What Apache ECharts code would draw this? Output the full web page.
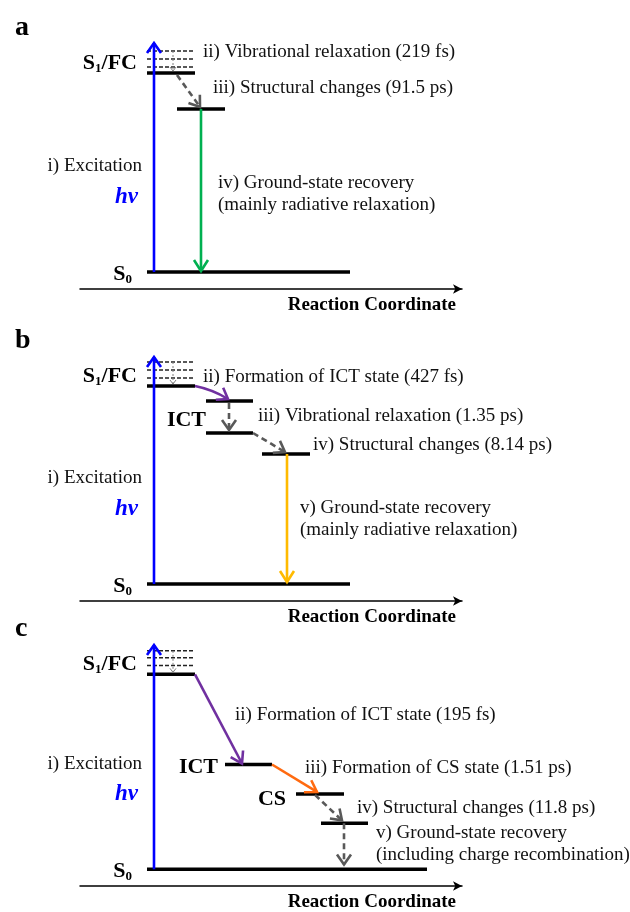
<!DOCTYPE html>
<html>
<head>
<meta charset="utf-8">
<script src="https://cdn.jsdelivr.net/npm/echarts@6/dist/echarts.min.js"></script>
<style>
  html, body { margin: 0; padding: 0; background: #fff; }
  #chart { width: 630px; height: 912px; }
</style>
</head>
<body>
<div id="chart"></div>
<script>
const FONT = "'Liberation Serif', 'Times New Roman', serif";

const panelNames = ['a', 'b', 'c'];
const axisTitle = 'Reaction Coordinate';
const excitationText = 'i) Excitation';
const photonText = 'hν';

// energy levels: [xStart, xEnd, energy]
const levelsA = [[67, 115, 216], [97, 145, 180], [67, 270, 17]];
const levelsB = [[67, 115, 215], [126, 173, 200], [126, 173, 168], [182, 230, 147], [67, 270, 17]];
const levelsC = [[67, 115, 216], [145, 192, 124], [216, 264, 94], [241, 288, 64], [67, 347, 17]];

// vibrational sub-levels above S1/FC
const vibA = [[67, 115, 238], [67, 115, 230], [67, 115, 222]];
const vibB = [[67, 115, 239], [67, 115, 231], [67, 115, 223]];
const vibC = [[67, 115, 240], [67, 115, 233], [67, 115, 225]];

// arrows: [x1, y1, x2, y2] and their kinds
const arrowsA = [[74, 17, 74, 246], [93, 238, 93, 218], [97, 214, 120, 182], [121, 180, 121, 18]];
const arrowKindsA = ['blue', 'dot', 'dash', 'green'];
const arrowsB = [[74, 17, 74, 244], [93, 239, 93, 217], [115, 215, 148, 202], [149, 198, 149, 171], [173, 168, 205, 149], [207, 147, 207, 19]];
const arrowKindsB = ['blue', 'dot', 'purpleCurve', 'dash', 'dash', 'yellow'];
const arrowsC = [[74, 17, 74, 246], [93, 240, 93, 218], [115, 216, 162, 125], [192, 124, 237, 96], [235, 93, 262, 67], [264, 64, 264, 22]];
const arrowKindsC = ['blue', 'dot', 'purple', 'orange', 'dash', 'dash'];

// state labels (right aligned): [x, y]
const statePosA = [[57, 226], [52, 15]];
const stateNamesA = ['S1/FC', 'S0'];
const statePosB = [[57, 225], [126, 181], [52, 15]];
const stateNamesB = ['S1/FC', 'ICT', 'S0'];
const statePosC = [[57, 226], [138, 121], [206, 88], [52, 15]];
const stateNamesC = ['S1/FC', 'ICT', 'CS', 'S0'];

// process notes (left aligned)
const notePosA = [[123, 237], [133, 201], [138, 106], [138, 84]];
const notesA = ['ii) Vibrational relaxation (219 fs)', 'iii) Structural changes (91.5 ps)',
  'iv) Ground-state recovery', '(mainly radiative relaxation)'];
const notePosB = [[123, 224], [178, 185], [233, 156], [220, 93], [220, 71]];
const notesB = ['ii) Formation of ICT state (427 fs)', 'iii) Vibrational relaxation (1.35 ps)',
  'iv) Structural changes (8.14 ps)', 'v) Ground-state recovery', '(mainly radiative relaxation)'];
const notePosC = [[155, 174], [225, 120], [277, 80], [296, 54], [296, 32]];
const notesC = ['ii) Formation of ICT state (195 fs)', 'iii) Formation of CS state (1.51 ps)',
  'iv) Structural changes (11.8 ps)', 'v) Ground-state recovery', '(including charge recombination)'];

// excitation labels: 'i) Excitation', 'hν'
const excitePosA = [[62, 123], [58, 92]];
const excitePosB = [[62, 123], [58, 92]];
const excitePosC = [[62, 124], [58, 94]];

const panels = [
  { levels: levelsA, vib: vibA, arrows: arrowsA, kinds: arrowKindsA, statePos: statePosA, states: stateNamesA, notePos: notePosA, notes: notesA, excite: excitePosA },
  { levels: levelsB, vib: vibB, arrows: arrowsB, kinds: arrowKindsB, statePos: statePosB, states: stateNamesB, notePos: notePosB, notes: notesB, excite: excitePosB },
  { levels: levelsC, vib: vibC, arrows: arrowsC, kinds: arrowKindsC, statePos: statePosC, states: stateNamesC, notePos: notePosC, notes: notesC, excite: excitePosC }
];

const gridTops = [40, 352, 642];
const titleTops = [9, 322, 610];

const arrowStyle = {
  blue: { color: '#0000FF', width: 2.6, head: [10, 7] },
  green: { color: '#00B050', width: 2.6, head: [11, 7] },
  yellow: { color: '#FFBA00', width: 2.6, head: [11, 7] },
  purple: { color: '#7030A0', width: 2.6, head: [11, 7] },
  purpleCurve: { color: '#7030A0', width: 2.6, head: [10, 7], bend: -0.09 },
  orange: { color: '#FF6A10', width: 2.6, head: [11, 7] },
  dash: { color: '#595959', width: 2.6, head: [10, 7], dash: [6, 4] },
  dot: { color: '#808080', width: 1, head: [4, 3], dash: [2, 2] }
};

function stateRich(name) {
  const m = name.match(/^S(\d)(.*)$/);
  if (!m) return '{b|' + name + '}';
  return '{b|S}{s|' + m[1] + '}' + (m[2] ? '{b|' + m[2] + '}' : '');
}

function levelRenderer(dashed) {
  return function (params, api) {
    const s = api.coord([api.value(0), api.value(2)]);
    const e = api.coord([api.value(1), api.value(2)]);
    return {
      type: 'line',
      shape: { x1: s[0], y1: s[1], x2: e[0], y2: e[1] },
      style: dashed
        ? { stroke: '#222', lineWidth: 1.4, lineDash: [4, 2] }
        : { stroke: '#000', lineWidth: 3.5 }
    };
  };
}

function arrowRenderer(kinds) {
  return function (params, api) {
    const st = arrowStyle[kinds[params.dataIndex]];
    const p1 = api.coord([api.value(0), api.value(1)]);
    const p2 = api.coord([api.value(2), api.value(3)]);
    let body, from = p1;
    if (st.bend) {
      const dx = p2[0] - p1[0], dy = p2[1] - p1[1];
      const cp = [(p1[0] + p2[0]) / 2 - dy * st.bend, (p1[1] + p2[1]) / 2 + dx * st.bend];
      body = { type: 'bezierCurve', shape: { x1: p1[0], y1: p1[1], cpx1: cp[0], cpy1: cp[1], x2: p2[0], y2: p2[1] } };
      from = cp;
    } else {
      body = { type: 'line', shape: { x1: p1[0], y1: p1[1], x2: p2[0], y2: p2[1] } };
    }
    body.style = { stroke: st.color, lineWidth: st.width, fill: null, lineDash: st.dash || null };
    const ang = Math.atan2(p2[1] - from[1], p2[0] - from[0]);
    const L = st.head[0], W = st.head[1];
    const bx = p2[0] - L * Math.cos(ang), by = p2[1] - L * Math.sin(ang);
    const nx = -Math.sin(ang), ny = Math.cos(ang);
    const head = {
      type: 'polyline',
      shape: { points: [[bx + nx * W, by + ny * W], p2, [bx - nx * W, by - ny * W]] },
      style: { stroke: st.color, lineWidth: st.width, fill: null, lineJoin: 'miter' }
    };
    return { type: 'group', children: [body, head] };
  };
}

function textRenderer(texts, kind) {
  return function (params, api) {
    const p = api.coord([api.value(0), api.value(1)]);
    const t = texts[params.dataIndex];
    let style;
    if (kind === 'state') {
      style = {
        text: stateRich(t), align: 'right', verticalAlign: 'middle',
        rich: {
          b: { fontFamily: FONT, fontWeight: 'bold', fontSize: 22, lineHeight: 24, fill: '#000' },
          s: { fontFamily: FONT, fontWeight: 'bold', fontSize: 13, lineHeight: 12, verticalAlign: 'bottom', fill: '#000' }
        }
      };
    } else if (kind === 'photon' && params.dataIndex === 1) {
      style = { text: t, align: 'right', verticalAlign: 'middle', fill: '#0000FF',
        fontFamily: FONT, fontWeight: 'bold', fontStyle: 'italic', fontSize: 23 };
    } else {
      style = { text: t, align: kind === 'photon' ? 'right' : 'left', verticalAlign: 'middle', fill: '#111',
        fontFamily: FONT, fontSize: 19 };
    }
    return { type: 'text', x: p[0], y: p[1], style: style };
  };
}

const option = {
  backgroundColor: '#fff',
  animation: false,
  title: panelNames.map((n, i) => ({
    text: n, left: 10, top: titleTops[i],
    textStyle: { fontFamily: FONT, fontWeight: 'bold', fontSize: 28, color: '#000' }
  })),
  grid: gridTops.map(t => ({ left: 80, top: t, width: 382, height: 249 })),
  xAxis: gridTops.map((t, i) => ({
    gridIndex: i, type: 'value', min: 0, max: 382,
    axisLine: { show: true, onZero: false, symbol: ['none', 'arrow'], symbolSize: [7, 9],
      lineStyle: { color: '#000', width: 1.5 } },
    axisTick: { show: false }, axisLabel: { show: false }, splitLine: { show: false },
    name: axisTitle, nameLocation: 'end', nameGap: 0,
    nameTextStyle: { fontFamily: FONT, fontWeight: 'bold', fontSize: 19, color: '#000',
      align: 'right', verticalAlign: 'top', padding: [7, 6, 0, 0] }
  })),
  yAxis: gridTops.map((t, i) => ({ gridIndex: i, type: 'value', min: 0, max: 249, show: false })),
  series: []
};

panels.forEach((p, i) => {
  const axes = { xAxisIndex: i, yAxisIndex: i };
  option.series.push(
    Object.assign({ type: 'custom', renderItem: levelRenderer(true), data: p.vib, encode: { x: [0, 1], y: 2 } }, axes),
    Object.assign({ type: 'custom', renderItem: levelRenderer(false), data: p.levels, encode: { x: [0, 1], y: 2 } }, axes),
    Object.assign({ type: 'custom', renderItem: arrowRenderer(p.kinds), data: p.arrows, encode: { x: [0, 2], y: [1, 3] } }, axes),
    Object.assign({ type: 'custom', renderItem: textRenderer(p.states, 'state'), data: p.statePos }, axes),
    Object.assign({ type: 'custom', renderItem: textRenderer(p.notes, 'note'), data: p.notePos }, axes),
    Object.assign({ type: 'custom', renderItem: textRenderer([excitationText, photonText], 'photon'), data: p.excite }, axes)
  );
});

const chart = echarts.init(document.getElementById('chart'));
chart.setOption(option);
</script>
</body>
</html>
